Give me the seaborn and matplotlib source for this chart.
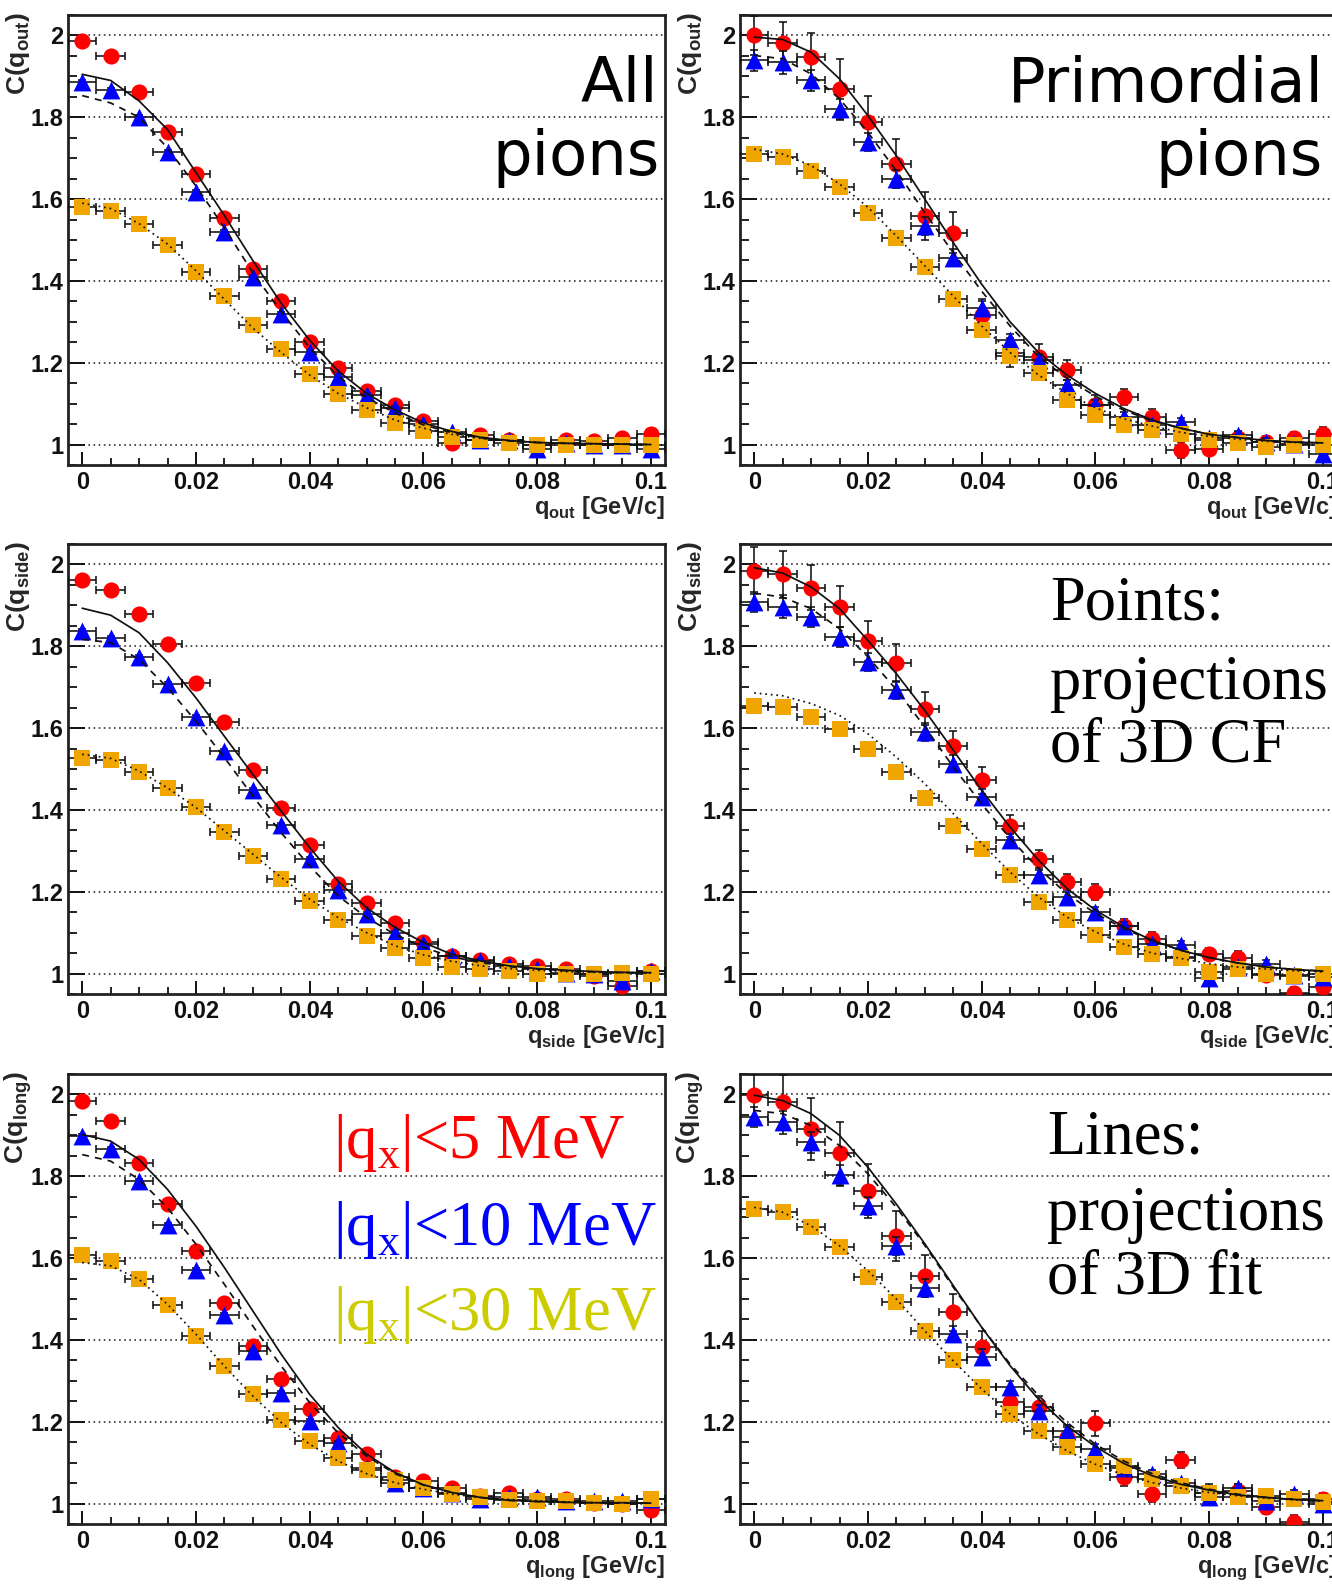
import matplotlib
matplotlib.use("Agg")
import matplotlib.pyplot as plt
import seaborn as sns
from matplotlib.ticker import FixedLocator, FixedFormatter, MultipleLocator

# ---------------- data ----------------
q_bins = [0.000, 0.005, 0.010, 0.015, 0.020, 0.025, 0.030, 0.035, 0.040, 0.045,
          0.050, 0.055, 0.060, 0.065, 0.070, 0.075, 0.080, 0.085, 0.090, 0.095, 0.100]
q_half_width = 0.0025

x_ticks = [0.0, 0.02, 0.04, 0.06, 0.08, 0.1]
x_tick_labels = ["0", "0.02", "0.04", "0.06", "0.08", "0.1"]
y_ticks = [1.0, 1.2, 1.4, 1.6, 1.8, 2.0]
y_tick_labels = ["1", "1.2", "1.4", "1.6", "1.8", "2"]

# q_out, all pions
out_all_red = [1.986, 1.951, 1.862, 1.764, 1.661, 1.553, 1.429, 1.350, 1.251, 1.186, 1.130,
               1.097, 1.057, 1.005, 1.024, 1.012, 1.000, 1.010, 1.008, 1.015, 1.027]
out_all_blue = [1.886, 1.866, 1.800, 1.714, 1.618, 1.520, 1.410, 1.320, 1.227, 1.165, 1.120,
                1.090, 1.050, 1.030, 1.010, 1.010, 0.990, 1.005, 1.000, 1.000, 0.990]
out_all_orange = [1.581, 1.571, 1.538, 1.488, 1.423, 1.362, 1.292, 1.233, 1.173, 1.124, 1.085,
                  1.053, 1.032, 1.019, 1.010, 1.005, 1.000, 1.000, 1.000, 1.000, 1.000]
out_all_solid = [1.905, 1.890, 1.840, 1.770, 1.665, 1.560, 1.450, 1.345, 1.255, 1.180, 1.125,
                 1.085, 1.053, 1.032, 1.018, 1.010, 1.005, 1.003, 1.002, 1.001, 1.000]
out_all_dashed = [1.853, 1.835, 1.800, 1.725, 1.632, 1.530, 1.420, 1.325, 1.237, 1.167, 1.115,
                  1.077, 1.048, 1.029, 1.016, 1.009, 1.005, 1.003, 1.002, 1.001, 1.000]
out_all_dotted = [1.590, 1.577, 1.540, 1.490, 1.425, 1.355, 1.285, 1.225, 1.170, 1.125, 1.090,
                  1.060, 1.040, 1.025, 1.015, 1.010, 1.005, 1.003, 1.002, 1.001, 1.000]

# q_out, primordial pions
out_prim_red = [2.000, 1.982, 1.947, 1.868, 1.788, 1.686, 1.559, 1.518, 1.317, 1.225, 1.215,
                1.182, 1.096, 1.117, 1.068, 0.986, 0.990, 1.015, 1.007, 1.015, 1.027]
out_prim_blue = [1.939, 1.935, 1.890, 1.820, 1.739, 1.649, 1.535, 1.457, 1.333, 1.255, 1.207,
                 1.145, 1.096, 1.068, 1.047, 1.056, 1.015, 1.023, 1.007, 1.002, 0.978]
out_prim_orange = [1.710, 1.704, 1.669, 1.629, 1.567, 1.504, 1.433, 1.355, 1.280, 1.217, 1.174,
                   1.109, 1.072, 1.047, 1.035, 1.027, 1.011, 1.005, 0.994, 1.000, 1.000]
out_prim_solid = [1.996, 1.990, 1.959, 1.894, 1.804, 1.706, 1.600, 1.494, 1.392, 1.300, 1.225,
                  1.170, 1.125, 1.088, 1.060, 1.040, 1.025, 1.017, 1.010, 1.006, 1.004]
out_prim_dashed = [1.951, 1.943, 1.906, 1.845, 1.763, 1.669, 1.567, 1.469, 1.375, 1.290, 1.215,
                   1.162, 1.118, 1.084, 1.058, 1.040, 1.025, 1.017, 1.010, 1.006, 1.004]
out_prim_dotted = [1.722, 1.710, 1.682, 1.637, 1.580, 1.510, 1.437, 1.363, 1.290, 1.225, 1.170,
                   1.125, 1.090, 1.063, 1.045, 1.030, 1.020, 1.013, 1.008, 1.005, 1.003]

# q_side, all pions
side_all_red = [1.961, 1.937, 1.880, 1.805, 1.710, 1.615, 1.498, 1.404, 1.313, 1.220, 1.173,
                1.123, 1.078, 1.043, 1.033, 1.023, 1.018, 1.011, 0.994, 0.970, 1.007]
side_all_blue = [1.837, 1.819, 1.774, 1.708, 1.627, 1.544, 1.448, 1.363, 1.279, 1.204, 1.145,
                 1.100, 1.072, 1.043, 1.030, 1.019, 1.011, 1.002, 1.000, 0.982, 1.007]
side_all_orange = [1.528, 1.521, 1.493, 1.454, 1.407, 1.346, 1.287, 1.230, 1.178, 1.131, 1.092,
                   1.062, 1.039, 1.017, 1.011, 1.005, 1.000, 1.000, 0.998, 1.002, 1.000]
side_all_solid = [1.893, 1.876, 1.833, 1.760, 1.674, 1.580, 1.487, 1.397, 1.308, 1.226, 1.161,
                  1.113, 1.076, 1.047, 1.031, 1.019, 1.012, 1.008, 1.005, 1.003, 1.002]
side_all_dashed = [1.817, 1.809, 1.768, 1.699, 1.617, 1.528, 1.434, 1.344, 1.263, 1.190, 1.137,
                   1.096, 1.064, 1.041, 1.027, 1.017, 1.011, 1.007, 1.004, 1.002, 1.002]
side_all_dotted = [1.536, 1.526, 1.495, 1.454, 1.406, 1.349, 1.292, 1.235, 1.182, 1.137, 1.100,
                   1.068, 1.046, 1.030, 1.019, 1.012, 1.008, 1.005, 1.003, 1.002, 1.002]

# q_side, primordial pions
side_prim_red = [1.985, 1.976, 1.943, 1.897, 1.813, 1.759, 1.647, 1.555, 1.472, 1.360, 1.281,
                 1.224, 1.200, 1.116, 1.085, 1.041, 1.047, 1.039, 0.996, 0.953, 0.967]
side_prim_blue = [1.908, 1.897, 1.871, 1.822, 1.761, 1.694, 1.590, 1.513, 1.432, 1.326, 1.240,
                  1.187, 1.151, 1.116, 1.073, 1.069, 0.988, 1.016, 1.024, 0.996, 0.992]
side_prim_orange = [1.653, 1.651, 1.627, 1.598, 1.550, 1.493, 1.428, 1.360, 1.305, 1.240, 1.175,
                    1.130, 1.094, 1.065, 1.047, 1.037, 1.004, 1.012, 1.000, 0.993, 0.998]
side_prim_solid = [1.992, 1.979, 1.945, 1.892, 1.814, 1.733, 1.643, 1.546, 1.448, 1.358, 1.277,
                   1.208, 1.155, 1.114, 1.081, 1.057, 1.039, 1.026, 1.016, 1.010, 1.006]
side_prim_dashed = [1.930, 1.920, 1.892, 1.843, 1.774, 1.694, 1.603, 1.505, 1.415, 1.330, 1.257,
                    1.195, 1.147, 1.110, 1.080, 1.057, 1.039, 1.026, 1.016, 1.010, 1.006]
side_prim_dotted = [1.686, 1.679, 1.660, 1.631, 1.586, 1.529, 1.464, 1.391, 1.318, 1.248, 1.187,
                    1.138, 1.102, 1.072, 1.050, 1.037, 1.024, 1.016, 1.011, 1.007, 1.004]

# q_long, all pions
long_all_red = [1.985, 1.935, 1.833, 1.733, 1.617, 1.489, 1.385, 1.304, 1.230, 1.161, 1.121,
                1.064, 1.055, 1.039, 1.019, 1.027, 1.011, 1.011, 1.002, 0.998, 0.984]
long_all_blue = [1.898, 1.866, 1.788, 1.682, 1.572, 1.462, 1.373, 1.271, 1.202, 1.149, 1.088,
                 1.051, 1.039, 1.027, 1.011, 1.015, 1.015, 1.007, 1.007, 1.007, 1.011]
long_all_orange = [1.608, 1.593, 1.550, 1.485, 1.410, 1.336, 1.267, 1.204, 1.153, 1.112, 1.081,
                   1.057, 1.037, 1.023, 1.015, 1.008, 1.007, 1.007, 1.002, 1.000, 1.011]
long_all_solid = [1.902, 1.886, 1.841, 1.768, 1.678, 1.577, 1.471, 1.365, 1.267, 1.186, 1.121,
                  1.076, 1.046, 1.027, 1.015, 1.008, 1.005, 1.003, 1.002, 1.002, 1.001]
long_all_dashed = [1.853, 1.837, 1.792, 1.723, 1.634, 1.536, 1.434, 1.336, 1.247, 1.173, 1.116,
                   1.073, 1.045, 1.027, 1.015, 1.008, 1.005, 1.003, 1.002, 1.001, 1.001]
long_all_dotted = [1.589, 1.581, 1.548, 1.487, 1.414, 1.336, 1.263, 1.198, 1.145, 1.104, 1.073,
                   1.051, 1.035, 1.023, 1.015, 1.010, 1.007, 1.004, 1.002, 1.002, 1.001]

# q_long, primordial pions
long_prim_red = [1.998, 1.981, 1.916, 1.856, 1.765, 1.655, 1.557, 1.467, 1.382, 1.247, 1.235,
                 1.163, 1.196, 1.065, 1.024, 1.106, 1.027, 1.031, 0.992, 0.956, 1.010]
long_prim_blue = [1.945, 1.932, 1.883, 1.802, 1.728, 1.630, 1.528, 1.414, 1.359, 1.284, 1.227,
                  1.178, 1.133, 1.088, 1.072, 1.051, 1.015, 1.039, 1.007, 1.023, 0.998]
long_prim_orange = [1.720, 1.712, 1.675, 1.628, 1.555, 1.492, 1.421, 1.351, 1.285, 1.219, 1.178,
                    1.139, 1.096, 1.092, 1.060, 1.043, 1.027, 1.015, 1.019, 1.011, 1.005]
long_prim_solid = [1.998, 1.985, 1.953, 1.900, 1.822, 1.732, 1.635, 1.533, 1.431, 1.337, 1.255,
                   1.190, 1.139, 1.098, 1.068, 1.047, 1.033, 1.021, 1.015, 1.010, 1.007]
long_prim_dashed = [1.961, 1.953, 1.924, 1.875, 1.806, 1.724, 1.631, 1.529, 1.431, 1.341, 1.264,
                    1.198, 1.145, 1.104, 1.073, 1.051, 1.035, 1.023, 1.015, 1.010, 1.007]
long_prim_dotted = [1.724, 1.712, 1.679, 1.630, 1.569, 1.500, 1.422, 1.349, 1.280, 1.219, 1.170,
                    1.129, 1.096, 1.070, 1.051, 1.038, 1.027, 1.019, 1.013, 1.009, 1.006]

# vertical error bars
err_all_red = [0.006] * 21
err_all_blue = [0.005] * 21
err_all_orange = [0.004] * 21
err_prim_blue = [0.025, 0.028, 0.025, 0.025, 0.022, 0.022, 0.022, 0.020, 0.018, 0.016, 0.014,
                 0.013, 0.012, 0.011, 0.010, 0.010, 0.010, 0.009, 0.009, 0.009, 0.009]
err_prim_orange = [0.007] * 21
err_out_prim_red = [0.047, 0.050, 0.060, 0.075, 0.065, 0.060, 0.058, 0.050, 0.040, 0.035, 0.030,
                    0.025, 0.025, 0.020, 0.020, 0.020, 0.015, 0.015, 0.015, 0.015, 0.015]
err_side_prim_red = [0.057, 0.057, 0.055, 0.050, 0.049, 0.047, 0.040, 0.038, 0.033, 0.027, 0.022,
                     0.020, 0.020, 0.018, 0.017, 0.016, 0.015, 0.015, 0.015, 0.014, 0.014]
err_long_prim_red = [0.053, 0.067, 0.076, 0.077, 0.066, 0.061, 0.051, 0.045, 0.040, 0.032, 0.027,
                     0.025, 0.030, 0.022, 0.020, 0.020, 0.020, 0.018, 0.017, 0.017, 0.017]

axis_names = ["out", "side", "long"]

RED, BLUE, ORANGE, YELLOW = "#ff0000", "#0000ff", "#f0a500", "#cccc00"

# ---------------- styling ----------------
sns.set_style("white")
plt.rcParams["font.family"] = ["Liberation Sans", "DejaVu Sans"]
plt.rcParams["font.weight"] = "bold"

W, H = 1332, 1587
fig = plt.figure(figsize=(W / 100, H / 100), dpi=100)
fig.patch.set_facecolor("white")

col_left = [68 / W, 740 / W]
row_bottom = [(H - 465) / H, (H - 994) / H, (H - 1524) / H]
ax_w, ax_h = 597 / W, 450 / H

panels = [
    (0, 0, out_all_red, out_all_blue, out_all_orange, out_all_solid, out_all_dashed, out_all_dotted,
     err_all_red, err_all_blue, err_all_orange),
    (0, 1, out_prim_red, out_prim_blue, out_prim_orange, out_prim_solid, out_prim_dashed, out_prim_dotted,
     err_out_prim_red, err_prim_blue, err_prim_orange),
    (1, 0, side_all_red, side_all_blue, side_all_orange, side_all_solid, side_all_dashed, side_all_dotted,
     err_all_red, err_all_blue, err_all_orange),
    (1, 1, side_prim_red, side_prim_blue, side_prim_orange, side_prim_solid, side_prim_dashed, side_prim_dotted,
     err_side_prim_red, err_prim_blue, err_prim_orange),
    (2, 0, long_all_red, long_all_blue, long_all_orange, long_all_solid, long_all_dashed, long_all_dotted,
     err_all_red, err_all_blue, err_all_orange),
    (2, 1, long_prim_red, long_prim_blue, long_prim_orange, long_prim_solid, long_prim_dashed, long_prim_dotted,
     err_long_prim_red, err_prim_blue, err_prim_orange),
]

for (r, c, yr, yb, yo, ls_solid, ls_dash, ls_dot, er, eb, eo) in panels:
    ax = fig.add_axes([col_left[c], row_bottom[r], ax_w, ax_h])
    ax.set_facecolor("white")

    series = [(yr, er, RED, "o", 135), (yb, eb, BLUE, "^", 165), (yo, eo, ORANGE, "s", 120)]
    for i, (yy, ee, col, mk, sz) in enumerate(series):
        ax.errorbar(q_bins, yy, xerr=q_half_width, yerr=ee, fmt="none", ecolor="#111111",
                    elinewidth=1.15, capsize=2.8, capthick=1.15, zorder=3 + 2 * i)
        sns.scatterplot(x=q_bins, y=yy, ax=ax, marker=mk, s=sz, color=col,
                        linewidth=0, zorder=4 + 2 * i)

    for yy, style in [(ls_solid, "-"), (ls_dash, (0, (4, 3.5))), (ls_dot, (0, (1, 2.2)))]:
        sns.lineplot(x=q_bins, y=yy, ax=ax, color="#111111", linewidth=1.25,
                     estimator=None, sort=False, zorder=12)
        ax.lines[-1].set_linestyle(style)

    ax.set_xlim(-0.0025, 0.1025)
    ax.set_ylim(0.95, 2.05)
    ax.xaxis.set_major_locator(FixedLocator(x_ticks))
    ax.xaxis.set_major_formatter(FixedFormatter(x_tick_labels))
    ax.yaxis.set_major_locator(FixedLocator(y_ticks))
    ax.yaxis.set_major_formatter(FixedFormatter(y_tick_labels))
    ax.xaxis.set_minor_locator(MultipleLocator(0.005))
    ax.yaxis.set_minor_locator(MultipleLocator(0.05))

    ax.grid(False)
    ax.yaxis.grid(True, which="major", color="#222222", linestyle=(0, (1, 2.2)), linewidth=1.15)
    ax.set_axisbelow(True)

    ax.tick_params(axis="both", which="both", direction="in", colors="#111111",
                   top=False, right=False, bottom=True, left=True)
    ax.tick_params(axis="x", which="major", length=9.5, width=1.4, pad=4.0, labelsize=17)
    ax.tick_params(axis="x", which="minor", length=5, width=1.3)
    ax.tick_params(axis="y", which="major", length=12.5, width=1.4, pad=3.5, labelsize=17)
    ax.tick_params(axis="y", which="minor", length=6.5, width=1.3)
    for lab in ax.get_xticklabels() + ax.get_yticklabels():
        lab.set_fontweight("bold")

    for sp in ax.spines.values():
        sp.set_color("#222222")
        sp.set_linewidth(2.0)
        sp.set_visible(True)

    name = axis_names[r]
    ax.text(-50 / 597, 1 + 3 / 450, r"C(q$_\mathregular{%s}$)" % name, transform=ax.transAxes,
            rotation=90, ha="center", va="top", fontsize=19, fontweight="bold")
    ax.text(1.0, -49 / 450, r"q$_\mathregular{%s}$ [GeV/c]" % name, transform=ax.transAxes,
            ha="right", va="baseline", fontsize=17, fontweight="bold")


def fx(px):
    return px / W


def fy(py):
    return 1 - py / H


sans_kw = dict(family="DejaVu Sans", weight="normal", size=45, va="baseline", color="black")
fig.text(fx(658), fy(102), "All", ha="right", **sans_kw)
fig.text(fx(660), fy(175), "pions", ha="right", **sans_kw)
fig.text(fx(1324), fy(102), "Primordial", ha="right", **sans_kw)
fig.text(fx(1323), fy(175), "pions", ha="right", **sans_kw)

serif_kw = dict(family=["Liberation Serif", "DejaVu Serif"], weight="normal", size=45,
                va="baseline", ha="left")
fig.text(fx(1050), fy(620), "Points:", color="black", **serif_kw)
fig.text(fx(1050), fy(699), "projections", color="black", **serif_kw)
fig.text(fx(1050), fy(761), "of 3D CF", color="black", **serif_kw)
fig.text(fx(1047), fy(1154), "Lines:", color="black", **serif_kw)
fig.text(fx(1047), fy(1230), "projections", color="black", **serif_kw)
fig.text(fx(1047), fy(1294), "of 3D fit", color="black", **serif_kw)

fig.text(fx(333), fy(1158), r"|q$_\mathregular{x}$|<5 MeV", color=RED, **serif_kw)
fig.text(fx(333), fy(1245), r"|q$_\mathregular{x}$|<10 MeV", color=BLUE, **serif_kw)
fig.text(fx(333), fy(1330), r"|q$_\mathregular{x}$|<30 MeV", color=YELLOW, **serif_kw)

fig.savefig("out.png", dpi=100, facecolor="white")
